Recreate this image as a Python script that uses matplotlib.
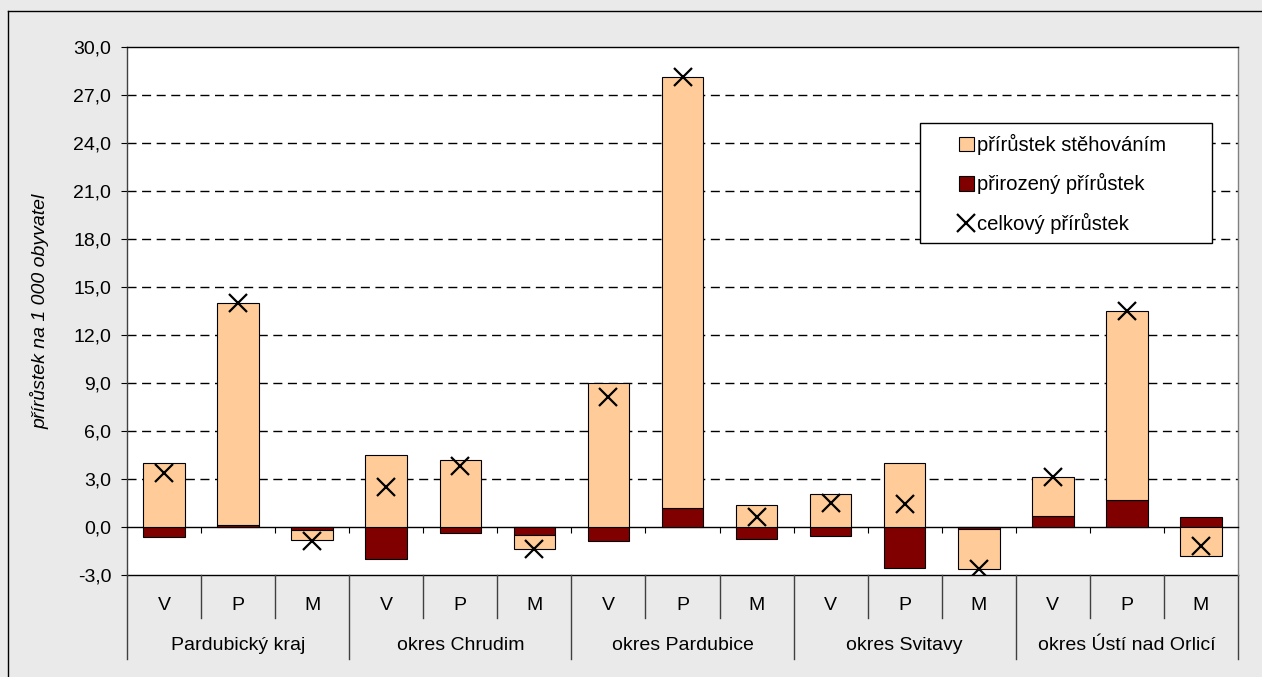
import matplotlib
matplotlib.use("Agg")
import matplotlib.pyplot as plt
import matplotlib.transforms as mtransforms
from matplotlib.patches import Rectangle, Patch
from matplotlib.lines import Line2D
import numpy as np

plt.rcParams['font.family'] = ['Liberation Sans', 'DejaVu Sans']

groups = ["Pardubický kraj", "okres Chrudim", "okres Pardubice", "okres Svitavy", "okres Ústí nad Orlicí"]
subcats = ["V", "P", "M"]
natural = [-0.6, 0.15, -0.2, -2.0, -0.4, -0.5, -0.9, 1.2, -0.75, -0.55, -2.55, -0.15, 0.7, 1.7, 0.6]
migration = [4.0, 13.85, -0.6, 4.5, 4.2, -0.9, 9.0, 26.9, 1.35, 2.05, 4.0, -2.5, 2.45, 11.8, -1.8]
total = [3.4, 14.0, -0.85, 2.5, 3.8, -1.4, 8.1, 28.1, 0.6, 1.5, 1.45, -2.65, 3.15, 13.5, -1.2]
yticks = [-3, 0, 3, 6, 9, 12, 15, 18, 21, 24, 27, 30]
legend_labels = ["přírůstek stěhováním", "přirozený přírůstek", "celkový přírůstek"]
ylabel = "přírůstek na 1 000 obyvatel"

C_MIG = "#FFCC99"
C_NAT = "#800000"
FS = 14

W, H = 1262, 677
fig = plt.figure(figsize=(W / 100, H / 100), dpi=100, facecolor="#EAEAEA")
ax = fig.add_axes([127 / W, 1 - 575 / H, (1238 - 127) / W, (575 - 47) / H])
ax.set_facecolor("white")

n = len(natural)
x = np.arange(n)
nat = np.array(natural)
mig = np.array(migration)
mig_bottom = np.where(np.sign(mig) == np.sign(nat), nat, 0.0)
bw = 0.56

ax.bar(x, nat, bw, color=C_NAT, edgecolor="black", linewidth=0.8, zorder=3)
ax.bar(x, mig, bw, bottom=mig_bottom, color=C_MIG, edgecolor="black", linewidth=0.8, zorder=3)
ax.plot(x, total, linestyle="none", marker="x", markersize=13, markeredgewidth=1.6,
        color="black", zorder=4)

ax.set_xlim(-0.5, n - 0.5)
ax.set_ylim(-3, 30)

# grid
for v in yticks:
    if 0 < v < 30:
        ax.axhline(v, color="black", linewidth=1.0, linestyle=(0, (6.5, 4)), zorder=1)
ax.axhline(-3, color="black", linewidth=1.0, clip_on=False, zorder=2)

# y axis
ax.set_yticks(yticks)
ax.set_yticklabels([f"{v:.1f}".replace(".", ",") for v in yticks], fontsize=FS)
ax.tick_params(axis="y", direction="out", length=4.3, width=0.8, pad=7, colors="black")

# x axis at zero with boundary ticks
ax.spines["bottom"].set_position(("data", 0))
ax.spines["bottom"].set_linewidth(1.0)
ax.set_xticks(np.arange(0.5, n - 1, 1.0))
ax.set_xticklabels([])
ax.tick_params(axis="x", direction="out", length=4.3, width=0.8, colors="black")
ax.spines["top"].set_color("black")
ax.spines["top"].set_linewidth(1.0)
ax.spines["right"].set_color("#808080")
ax.spines["right"].set_linewidth(1.0)
ax.spines["left"].set_color("#404040")
ax.spines["left"].set_linewidth(1.0)

# category axis below the plot
trans = mtransforms.blended_transform_factory(ax.transData, ax.transAxes)
ah = 575 - 47
y_sub_sep = -43 / ah
y_grp_sep = -84 / ah
y_sub_lab = -30 / ah
y_grp_lab = -71 / ah
for i in range(n):
    ax.text(x[i], y_sub_lab, subcats[i % 3], transform=trans, ha="center", va="center",
            fontsize=FS, clip_on=False)
for b in np.arange(-0.5, n, 1.0):
    if (b + 0.5) % 3 == 0:
        ax.plot([b, b], [0, y_grp_sep], transform=trans, color="#404040", linewidth=1.0,
                clip_on=False)
    else:
        ax.plot([b, b], [0, y_sub_sep], transform=trans, color="#404040", linewidth=1.0,
                clip_on=False)
for g, name in enumerate(groups):
    ax.text(3 * g + 1, y_grp_lab, name, transform=trans, ha="center", va="center",
            fontsize=FS, clip_on=False)

# y label
fig.text(40 / W, 1 - 311 / H, ylabel, rotation=90, ha="center", va="center",
         fontsize=FS, style="italic")

# legend frame + legend
fig.add_artist(Rectangle((920 / W, 1 - 243 / H), (1212 - 920) / W, (243 - 123) / H,
                         transform=fig.transFigure, facecolor="white", edgecolor="black",
                         linewidth=1.0, zorder=4))
handles = [Patch(facecolor=C_MIG, edgecolor="black", linewidth=0.8),
           Patch(facecolor=C_NAT, edgecolor="black", linewidth=0.8),
           Line2D([], [], linestyle="none", marker="x", markersize=13, markeredgewidth=1.6,
                  color="black")]
leg = fig.legend(handles, legend_labels, loc="upper left",
                 bbox_to_anchor=(959 / W, 1 - 134 / H), frameon=False, fontsize=14.6,
                 handlelength=0.72, handleheight=0.72, handletextpad=0.15,
                 labelspacing=0.9, borderpad=0, borderaxespad=0)
leg.set_zorder(5)

# outer border (top and left only visible)
fig.add_artist(Line2D([8 / W, 1], [1 - 11 / H, 1 - 11 / H], transform=fig.transFigure,
                      color="black", linewidth=1.0))
fig.add_artist(Line2D([8 / W, 8 / W], [0, 1 - 11 / H], transform=fig.transFigure,
                      color="black", linewidth=1.0))

fig.savefig("out.png", dpi=100, facecolor=fig.get_facecolor())
